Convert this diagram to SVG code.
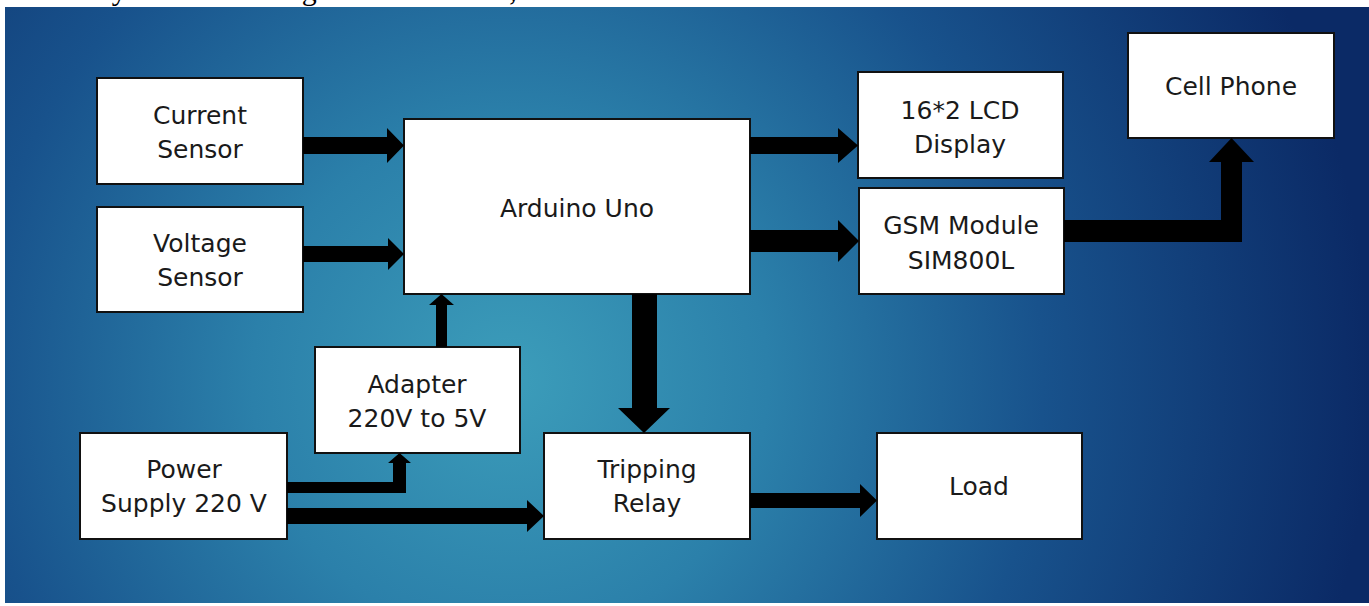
<svg xmlns="http://www.w3.org/2000/svg" width="1369" height="606" viewBox="0 0 1369 606">
  <defs>
    <radialGradient id="bg" gradientUnits="userSpaceOnUse" cx="510" cy="380" r="860">
      <stop offset="0" stop-color="#3c9dba"/>
      <stop offset="0.3" stop-color="#2b80aa"/>
      <stop offset="0.62" stop-color="#18528c"/>
      <stop offset="1" stop-color="#0b2a66"/>
    </radialGradient>
  </defs>
  <style>
    .box { fill: #ffffff; stroke: #111111; stroke-width: 2; }
    .lbl { font-family: "DejaVu Sans", "Liberation Sans", sans-serif; font-size: 25px; fill: #1a1a1a; text-anchor: middle; dominant-baseline: central; }
    .arr { fill: #000000; }
    .cap { font-family: "Liberation Serif", serif; font-size: 30px; fill: #000000; }
  </style>
  <rect x="0" y="0" width="1369" height="606" fill="#ffffff"/>
  <text class="cap" x="46" y="0">The system block diagram is shown as,</text>
  <rect x="5" y="7" width="1364" height="596" fill="url(#bg)"/>

  <g id="current-sensor">
    <rect class="box" x="97" y="78" width="206" height="106"/>
    <text class="lbl" x="200" y="115">Current</text>
    <text class="lbl" x="200" y="149">Sensor</text>
  </g>
  <g id="voltage-sensor">
    <rect class="box" x="97" y="207" width="206" height="105"/>
    <text class="lbl" x="200" y="243">Voltage</text>
    <text class="lbl" x="200" y="277">Sensor</text>
  </g>
  <g id="arduino">
    <rect class="box" x="404" y="119" width="346" height="175"/>
    <text class="lbl" x="577" y="208">Arduino Uno</text>
  </g>
  <g id="lcd">
    <rect class="box" x="858" y="72" width="205" height="106"/>
    <text class="lbl" x="960" y="110">16*2 LCD</text>
    <text class="lbl" x="960" y="144">Display</text>
  </g>
  <g id="gsm">
    <rect class="box" x="859" y="188" width="205" height="106"/>
    <text class="lbl" x="961" y="225">GSM Module</text>
    <text class="lbl" x="961" y="260">SIM800L</text>
  </g>
  <g id="cell-phone">
    <rect class="box" x="1128" y="33" width="206" height="105"/>
    <text class="lbl" x="1231" y="86">Cell Phone</text>
  </g>
  <g id="adapter">
    <rect class="box" x="315" y="347" width="205" height="106"/>
    <text class="lbl" x="417" y="384">Adapter</text>
    <text class="lbl" x="417" y="418">220V to 5V</text>
  </g>
  <g id="power-supply">
    <rect class="box" x="80" y="433" width="207" height="106"/>
    <text class="lbl" x="184" y="469">Power</text>
    <text class="lbl" x="184" y="503">Supply 220 V</text>
  </g>
  <g id="relay">
    <rect class="box" x="544" y="433" width="206" height="106"/>
    <text class="lbl" x="647" y="469">Tripping</text>
    <text class="lbl" x="647" y="503">Relay</text>
  </g>
  <g id="load">
    <rect class="box" x="877" y="433" width="205" height="106"/>
    <text class="lbl" x="979" y="486">Load</text>
  </g>

  <g id="connectors">
    <path class="arr" d="M303,137 H387 V128 L404,145.5 L387,163 V154 H303 Z"/>
    <path class="arr" d="M303,246 H388 V238 L404,254 L388,270 V262 H303 Z"/>
    <path class="arr" d="M750,137 H838 V128 L858,145.5 L838,163 V154 H750 Z"/>
    <path class="arr" d="M750,230 H838 V220 L859,241 L838,262 V252 H750 Z"/>
    <path class="arr" d="M1064,220 H1221 V162 H1209 L1231.5,138 L1254,162 H1242 V242 H1064 Z"/>
    <path class="arr" d="M632,294 V408 H618 L644,433 L670,408 H657 V294 Z"/>
    <path class="arr" d="M436,347 V305 H429 L441.5,294 L454,305 H447 V347 Z"/>
    <path class="arr" d="M287,482 H393 V463 H388 L399.5,453 L411,463 H406 V493 H287 Z"/>
    <path class="arr" d="M287,508 H527 V500 L544,516 L527,532 V524 H287 Z"/>
    <path class="arr" d="M750,493 H860 V484 L877,500.5 L860,517 V508 H750 Z"/>
  </g>
</svg>
